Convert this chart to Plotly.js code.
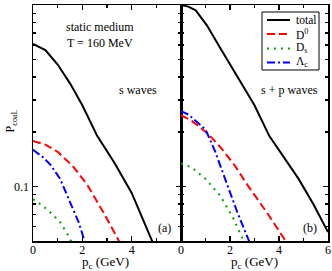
<!DOCTYPE html>
<html><head><meta charset="utf-8">
<script src="https://cdn.plot.ly/plotly-3.0.1.min.js"></script>
<style>body{margin:0;background:#fff}#c{width:332px;height:271px}</style>
</head><body><div id="c"></div>
<script>
// (a) s waves
const aTotalX = [0, 0.5, 1.0, 1.5, 2.0, 2.6, 3.3, 4.0, 4.8, 5.0];
const aTotalY = [0.61, 0.565, 0.47, 0.37, 0.28, 0.19, 0.135, 0.092, 0.051, 0.045];
const aD0X = [0, 0.5, 1.0, 1.6, 2.2, 2.85, 3.45, 3.6];
const aD0Y = [0.178, 0.17, 0.155, 0.13, 0.102, 0.072, 0.051, 0.046];
const aDsX = [0, 0.4, 0.7, 1.1, 1.45, 1.6];
const aDsY = [0.085, 0.078, 0.072, 0.0635, 0.053, 0.048];
const aLcX = [0, 0.4, 0.7, 1.1, 1.5, 1.85, 2.07, 2.15];
const aLcY = [0.159, 0.145, 0.132, 0.11, 0.082, 0.0635, 0.051, 0.046];
// (b) s + p waves
const bTotalX = [0, 0.3, 0.6, 1.05, 1.65, 2.3, 3.0, 3.6, 4.2, 4.8, 5.4, 6.0];
const bTotalY = [1.0, 0.98, 0.935, 0.775, 0.565, 0.40, 0.28, 0.19, 0.145, 0.11, 0.08, 0.056];
const bD0X = [0, 0.45, 1.1, 1.6, 2.2, 2.75, 3.5, 4.25, 4.4];
const bD0Y = [0.247, 0.229, 0.195, 0.165, 0.13, 0.10, 0.072, 0.051, 0.047];
const bDsX = [0, 0.45, 1.0, 1.6, 2.15, 2.55, 2.65];
const bDsY = [0.134, 0.127, 0.11, 0.089, 0.066, 0.051, 0.047];
const bLcX = [0, 0.3, 1.0, 1.4, 1.8, 2.3, 2.75, 2.85];
const bLcY = [0.26, 0.249, 0.206, 0.155, 0.11, 0.072, 0.051, 0.047];

const names = ['total', 'D<sup>0</sup>', 'D<sub>s</sub>', 'Λ<sub>c</sub>'];
const lines = [
  {color: '#000000', width: 2, dash: 'solid'},
  {color: '#ff0000', width: 2, dash: '8px,4px'},
  {color: '#00a000', width: 2, dash: '2px,5px'},
  {color: '#0000ff', width: 2, dash: '8px,3px,2px,3px'}
];
const setA = [[aTotalX, aTotalY], [aD0X, aD0Y], [aDsX, aDsY], [aLcX, aLcY]];
const setB = [[bTotalX, bTotalY], [bD0X, bD0Y], [bDsX, bDsY], [bLcX, bLcY]];
const data = [];
setA.forEach((s, i) => data.push({x: s[0], y: s[1], xaxis: 'x', yaxis: 'y', mode: 'lines', line: lines[i], name: names[i], showlegend: false}));
setB.forEach((s, i) => data.push({x: s[0], y: s[1], xaxis: 'x2', yaxis: 'y2', mode: 'lines', line: lines[i], name: names[i], showlegend: false}));

const F = 'Liberation Serif';
const yMinor = [0.05, 0.06, 0.07, 0.08, 0.09, 0.2, 0.3, 0.4, 0.5, 0.6, 0.7, 0.8, 0.9];
const xax = (dom, vals, txt) => ({domain: dom, range: [0, 6], showline: true, linewidth: 1.5, linecolor: '#000', mirror: 'ticks',
  ticks: 'inside', ticklen: 5, tickwidth: 1.5, tickcolor: '#000', tickmode: 'array', tickvals: vals, ticktext: txt,
  ticklabelstandoff: -3,
  minor: {ticks: 'inside', ticklen: 3, tickwidth: 1.5, tickcolor: '#000', tickvals: [1, 3, 5]},
  showgrid: false, zeroline: false, tickfont: {family: F, size: 12, color: '#000'}, fixedrange: true});
const yax = (anchor, showlab) => ({type: 'log', range: [Math.log10(0.05), 0], anchor: anchor, showline: true, linewidth: 1.5, linecolor: '#000', mirror: 'ticks',
  ticks: 'inside', ticklen: 5, tickwidth: 1.5, tickcolor: '#000', tickmode: 'array', tickvals: [0.1, 1], ticktext: ['0.1', '1'],
  showticklabels: showlab, minor: {ticks: 'inside', ticklen: 3, tickwidth: 1.5, tickcolor: '#000', tickvals: yMinor},
  showgrid: false, zeroline: false, tickfont: {family: F, size: 12, color: '#000'}, fixedrange: true});

const ann = (x, y, text, extra) => Object.assign({x: x, y: y, xref: 'paper', yref: 'paper', text: text, showarrow: false,
  xanchor: 'center', yanchor: 'middle', font: {family: F, size: 12, color: '#000'}}, extra || {});

// manual legend (paper coordinates)
const legX0 = 0.7763, legX1 = 0.9695, legY0 = 0.7246, legY1 = 0.9703;
const legRows = [0.9364, 0.877, 0.8157, 0.7564];
const shapes = [{type: 'rect', xref: 'paper', yref: 'paper', x0: legX0, x1: legX1, y0: legY0, y1: legY1,
  line: {color: '#000', width: 1}, fillcolor: '#fff', layer: 'above'}];
const annotations = [
  ann(0.227, 0.905, 'static medium'),
  ann(0.227, 0.838, 'T = 160 MeV'),
  ann(0.356, 0.64, 's waves'),
  ann(0.868, 0.64, 's + p waves'),
  ann(0.447, 0.056, '(a)'),
  ann(0.939, 0.056, '(b)'),
  ann(0.246, -0.093, 'p<sub>c</sub> (GeV)', {font: {family: F, size: 13, color: '#000'}}),
  ann(0.75, -0.093, 'p<sub>c</sub> (GeV)', {font: {family: F, size: 13, color: '#000'}}),
  ann(-0.075, 0.51, 'P<sub>coal.</sub>', {textangle: -90})
];
names.forEach((n, i) => {
  shapes.push({type: 'line', xref: 'paper', yref: 'paper', x0: 0.793, x1: 0.871, y0: legRows[i], y1: legRows[i],
    line: lines[i], layer: 'above'});
  annotations.push(ann(0.885, legRows[i], n, {xanchor: 'left', font: {family: F, size: 11.5, color: '#000'}}));
});

const layout = {
  width: 332, height: 271, margin: {l: 33, r: 4, t: 5, b: 30},
  paper_bgcolor: '#fff', plot_bgcolor: '#fff', showlegend: false,
  xaxis: xax([0, 0.5017], [0, 2, 4, 6], ['0', '2', '4', '']),
  xaxis2: xax([0.5017, 1], [0, 2, 4, 6], ['0', '2', '4', '6']),
  yaxis: yax('x', true),
  yaxis2: yax('x2', false),
  shapes: shapes,
  annotations: annotations
};
Plotly.newPlot('c', data, layout, {displayModeBar: false, staticPlot: true});
</script></body></html>
